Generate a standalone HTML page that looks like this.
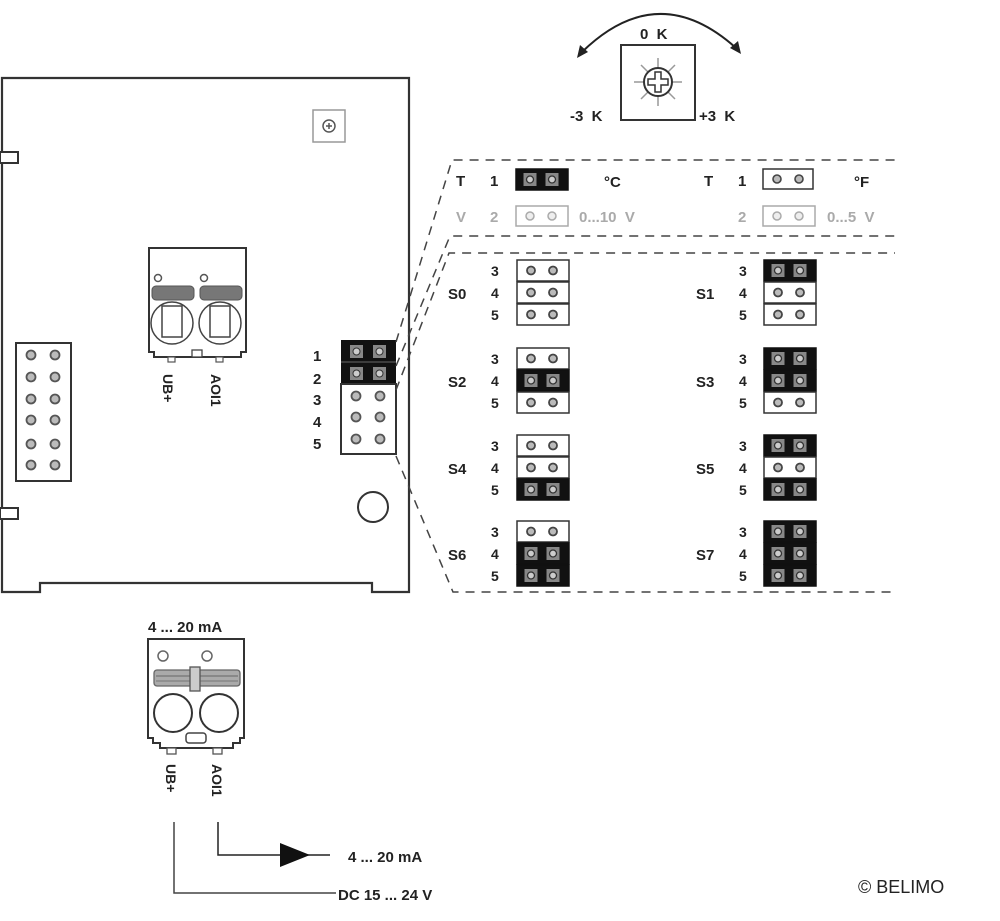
<!DOCTYPE html>
<html><head><meta charset="utf-8"><style>
html,body{margin:0;padding:0;background:#fff;}
svg{display:block;}
text{font-family:"Liberation Sans",Arial,sans-serif;font-weight:bold;fill:#222;}
</style></head><body>
<svg width="1000" height="921" viewBox="0 0 1000 921" xmlns="http://www.w3.org/2000/svg">
<defs>
<g id="W"><rect x="0" y="0" width="52" height="21" fill="#fff" stroke="#333" stroke-width="1.5"/><circle cx="14" cy="10.5" r="4" fill="#bbb" stroke="#444" stroke-width="1.8"/><circle cx="36" cy="10.5" r="4" fill="#bbb" stroke="#444" stroke-width="1.8"/></g>
<g id="B"><rect x="0" y="0" width="52" height="21" fill="#111" stroke="#111" stroke-width="1.5"/><rect x="7.5" y="4" width="13" height="13" fill="#888"/><circle cx="14" cy="10.5" r="3.5" fill="#ccc" stroke="#333" stroke-width="1.3"/><rect x="29.5" y="4" width="13" height="13" fill="#888"/><circle cx="36" cy="10.5" r="3.5" fill="#ccc" stroke="#333" stroke-width="1.3"/></g>
<g id="G"><rect x="0" y="0" width="52" height="20" fill="#fff" stroke="#aaa" stroke-width="1.5"/><circle cx="14" cy="10" r="4" fill="#eee" stroke="#aaa" stroke-width="1.5"/><circle cx="36" cy="10" r="4" fill="#eee" stroke="#aaa" stroke-width="1.5"/></g>
<circle id="P" r="4.5" fill="#bbb" stroke="#555" stroke-width="1.8"/>
</defs>

<!-- board -->
<path d="M2,78 H409 V592 H372 V583 H40 V592 H2 Z" fill="#fff" stroke="#333" stroke-width="2.2"/>
<rect x="0" y="152" width="18" height="11" fill="#fff" stroke="#333" stroke-width="2"/>
<rect x="0" y="508" width="18" height="11" fill="#fff" stroke="#333" stroke-width="2"/>
<!-- pot small -->
<rect x="313" y="110" width="32" height="32" fill="#fff" stroke="#999" stroke-width="1.5"/>
<circle cx="329" cy="126" r="6" fill="#fff" stroke="#555" stroke-width="1.5"/>
<path d="M326,126h6M329,123v6" stroke="#555" stroke-width="1.5"/>
<!-- left header -->
<rect x="16" y="343" width="55" height="138" fill="#fff" stroke="#333" stroke-width="2"/>
<g>
<use href="#P" x="31" y="355"/><use href="#P" x="55" y="355"/>
<use href="#P" x="31" y="377"/><use href="#P" x="55" y="377"/>
<use href="#P" x="31" y="399"/><use href="#P" x="55" y="399"/>
<use href="#P" x="31" y="420"/><use href="#P" x="55" y="420"/>
<use href="#P" x="31" y="444"/><use href="#P" x="55" y="444"/>
<use href="#P" x="31" y="465"/><use href="#P" x="55" y="465"/>
</g>
<!-- terminal on board -->
<path d="M149,248 H246 V352 H241 V357 H154 V352 H149 Z" fill="#fff" stroke="#333" stroke-width="2"/>
<circle cx="158" cy="278" r="3.5" fill="#fff" stroke="#555" stroke-width="1.5"/>
<circle cx="204" cy="278" r="3.5" fill="#fff" stroke="#555" stroke-width="1.5"/>
<rect x="152" y="286" width="42" height="14" rx="4" fill="#777" stroke="#555"/>
<rect x="200" y="286" width="42" height="14" rx="4" fill="#777" stroke="#555"/>
<circle cx="172" cy="323" r="21" fill="#fff" stroke="#444" stroke-width="1.5"/>
<circle cx="220" cy="323" r="21" fill="#fff" stroke="#444" stroke-width="1.5"/>
<rect x="162" y="306" width="20" height="31" fill="#fff" stroke="#444" stroke-width="1.5"/>
<rect x="210" y="306" width="20" height="31" fill="#fff" stroke="#444" stroke-width="1.5"/>
<rect x="192" y="350" width="10" height="7" fill="#fff" stroke="#444" stroke-width="1.3"/>
<rect x="168" y="357" width="7" height="5" fill="#fff" stroke="#555" stroke-width="1.2"/>
<rect x="216" y="357" width="7" height="5" fill="#fff" stroke="#555" stroke-width="1.2"/>
<text transform="translate(163,374) rotate(90)" font-size="14">UB+</text>
<text transform="translate(211,374) rotate(90)" font-size="14">AOI1</text>
<!-- right header -->
<rect x="341" y="340" width="55" height="44" fill="#111"/>
<line x1="341" y1="362" x2="396" y2="362" stroke="#666" stroke-width="1"/>
<rect x="341" y="384" width="55" height="70" fill="#fff" stroke="#333" stroke-width="2"/>
<rect x="350" y="345" width="13" height="13" fill="#888"/><circle cx="356.5" cy="351.5" r="3.5" fill="#ccc" stroke="#333"/>
<rect x="373" y="345" width="13" height="13" fill="#888"/><circle cx="379.5" cy="351.5" r="3.5" fill="#ccc" stroke="#333"/>
<rect x="350" y="367" width="13" height="13" fill="#888"/><circle cx="356.5" cy="373.5" r="3.5" fill="#ccc" stroke="#333"/>
<rect x="373" y="367" width="13" height="13" fill="#888"/><circle cx="379.5" cy="373.5" r="3.5" fill="#ccc" stroke="#333"/>
<use href="#P" x="356" y="396"/><use href="#P" x="380" y="396"/>
<use href="#P" x="356" y="417"/><use href="#P" x="380" y="417"/>
<use href="#P" x="356" y="439"/><use href="#P" x="380" y="439"/>
<g font-size="15"><text x="313" y="361">1</text><text x="313" y="384">2</text><text x="313" y="405">3</text><text x="313" y="427">4</text><text x="313" y="449">5</text></g>
<circle cx="373" cy="507" r="15" fill="#fff" stroke="#333" stroke-width="2"/>

<!-- dashed lines -->
<g fill="none" stroke="#444" stroke-width="1.5" stroke-dasharray="9,7">
<path d="M396,342 L452,160 H895"/>
<path d="M396,366 L450,236 H895"/>
<path d="M396,390 L449,253 H895"/>
<path d="M396,456 L453,592 H895"/>
</g>

<!-- T / V rows -->
<g font-size="15">
<text x="456" y="186">T</text><text x="490" y="186">1</text>
<text x="604" y="187">°C</text>
<text x="704" y="186">T</text><text x="738" y="186">1</text>
<text x="854" y="187">°F</text>
</g>
<use href="#B" x="516" y="169"/>
<rect x="763" y="169" width="50" height="20" fill="#fff" stroke="#333" stroke-width="1.5"/>
<circle cx="777" cy="179" r="4" fill="#bbb" stroke="#444" stroke-width="1.6"/><circle cx="799" cy="179" r="4" fill="#bbb" stroke="#444" stroke-width="1.6"/>
<g font-size="15" style="font-weight:normal">
<text x="456" y="222" fill="#aaa" style="fill:#aaa">V</text><text x="490" y="222" style="fill:#aaa">2</text>
<text x="579" y="222" style="fill:#aaa">0...10&#160;&#160;V</text>
<text x="738" y="222" style="fill:#aaa">2</text>
<text x="827" y="222" style="fill:#aaa">0...5&#160;&#160;V</text>
</g>
<use href="#G" x="516" y="206"/>
<use href="#G" x="763" y="206"/>

<!-- S groups -->
<g font-size="15">
<text x="448" y="299">S0</text><text x="696" y="299">S1</text>
<text x="448" y="387">S2</text><text x="696" y="387">S3</text>
<text x="448" y="474">S4</text><text x="696" y="474">S5</text>
<text x="448" y="560">S6</text><text x="696" y="560">S7</text>
</g>
<g font-size="14">
<text x="491" y="276">3</text><text x="491" y="298">4</text><text x="491" y="320">5</text>
<text x="491" y="364">3</text><text x="491" y="386">4</text><text x="491" y="408">5</text>
<text x="491" y="451">3</text><text x="491" y="473">4</text><text x="491" y="495">5</text>
<text x="491" y="537">3</text><text x="491" y="559">4</text><text x="491" y="581">5</text>
<text x="739" y="276">3</text><text x="739" y="298">4</text><text x="739" y="320">5</text>
<text x="739" y="364">3</text><text x="739" y="386">4</text><text x="739" y="408">5</text>
<text x="739" y="451">3</text><text x="739" y="473">4</text><text x="739" y="495">5</text>
<text x="739" y="537">3</text><text x="739" y="559">4</text><text x="739" y="581">5</text>
</g>
<!-- S0 WWW -->
<use href="#W" x="517" y="260"/><use href="#W" x="517" y="282"/><use href="#W" x="517" y="304"/>
<!-- S1 BWW -->
<use href="#B" x="764" y="260"/><use href="#W" x="764" y="282"/><use href="#W" x="764" y="304"/>
<!-- S2 WBW -->
<use href="#W" x="517" y="348"/><use href="#B" x="517" y="370"/><use href="#W" x="517" y="392"/>
<!-- S3 BBW -->
<use href="#B" x="764" y="348"/><use href="#B" x="764" y="370"/><use href="#W" x="764" y="392"/>
<!-- S4 WWB -->
<use href="#W" x="517" y="435"/><use href="#W" x="517" y="457"/><use href="#B" x="517" y="479"/>
<!-- S5 BWB -->
<use href="#B" x="764" y="435"/><use href="#W" x="764" y="457"/><use href="#B" x="764" y="479"/>
<!-- S6 WBB -->
<use href="#W" x="517" y="521"/><use href="#B" x="517" y="543"/><use href="#B" x="517" y="565"/>
<!-- S7 BBB -->
<use href="#B" x="764" y="521"/><use href="#B" x="764" y="543"/><use href="#B" x="764" y="565"/>

<!-- dial -->
<path d="M582,52 Q658,-22 736,48" fill="none" stroke="#222" stroke-width="2"/>
<path d="M577,58 L580,45 L588,52 Z" fill="#222"/>
<path d="M741,54 L738,41 L730,48 Z" fill="#222"/>
<text x="640" y="39" font-size="15">0&#160;&#160;K</text>
<rect x="621" y="45" width="74" height="75" fill="#fff" stroke="#333" stroke-width="2"/>
<g stroke="#999" stroke-width="1.5">
<line x1="658" y1="58" x2="658" y2="106"/><line x1="634" y1="82" x2="682" y2="82"/>
<line x1="641" y1="65" x2="675" y2="99"/><line x1="675" y1="65" x2="641" y2="99"/>
</g>
<circle cx="658" cy="82" r="14" fill="#fff" stroke="#333" stroke-width="2"/>
<path d="M655,72h6v7h7v6h-7v7h-6v-7h-7v-6h7z" fill="#fff" stroke="#333" stroke-width="1.5"/>
<text x="570" y="121" font-size="15">-3&#160;&#160;K</text>
<text x="699" y="121" font-size="15">+3&#160;&#160;K</text>

<!-- lower connector -->
<text x="148" y="632" font-size="15">4 ... 20 mA</text>
<path d="M148,639 H244 V738 H240 V743 H233 V748 H160 V743 H153 V738 H148 Z" fill="#fff" stroke="#333" stroke-width="2"/>
<circle cx="163" cy="656" r="5" fill="#fff" stroke="#666" stroke-width="1.5"/>
<circle cx="207" cy="656" r="5" fill="#fff" stroke="#666" stroke-width="1.5"/>
<rect x="154" y="670" width="86" height="16" rx="3" fill="#aaa" stroke="#666" stroke-width="1.3"/>
<line x1="156" y1="676" x2="238" y2="676" stroke="#666"/>
<line x1="156" y1="681" x2="238" y2="681" stroke="#777"/>
<rect x="190" y="667" width="10" height="24" fill="#ccc" stroke="#555" stroke-width="1.3"/>
<circle cx="173" cy="713" r="19" fill="#fff" stroke="#333" stroke-width="2"/>
<circle cx="219" cy="713" r="19" fill="#fff" stroke="#333" stroke-width="2"/>
<rect x="186" y="733" width="20" height="10" rx="3" fill="#fff" stroke="#444" stroke-width="1.5"/>
<rect x="167" y="748" width="9" height="6" fill="#fff" stroke="#555" stroke-width="1.3"/>
<rect x="213" y="748" width="9" height="6" fill="#fff" stroke="#555" stroke-width="1.3"/>
<text transform="translate(166,764) rotate(90)" font-size="14">UB+</text>
<text transform="translate(212,764) rotate(90)" font-size="14">AOI1</text>
<!-- wiring -->
<path d="M174,822 V893 H336" fill="none" stroke="#444" stroke-width="1.5"/>
<path d="M218,822 V855 H330" fill="none" stroke="#222" stroke-width="1.5"/>
<path d="M280,843 L310,855 L280,867 Z" fill="#111"/>
<text x="348" y="862" font-size="15">4 ... 20 mA</text>
<text x="338" y="900" font-size="15">DC 15 ... 24 V</text>
<text x="858" y="893" font-size="18" style="font-weight:normal">© BELIMO</text>
</svg>
</body></html>
